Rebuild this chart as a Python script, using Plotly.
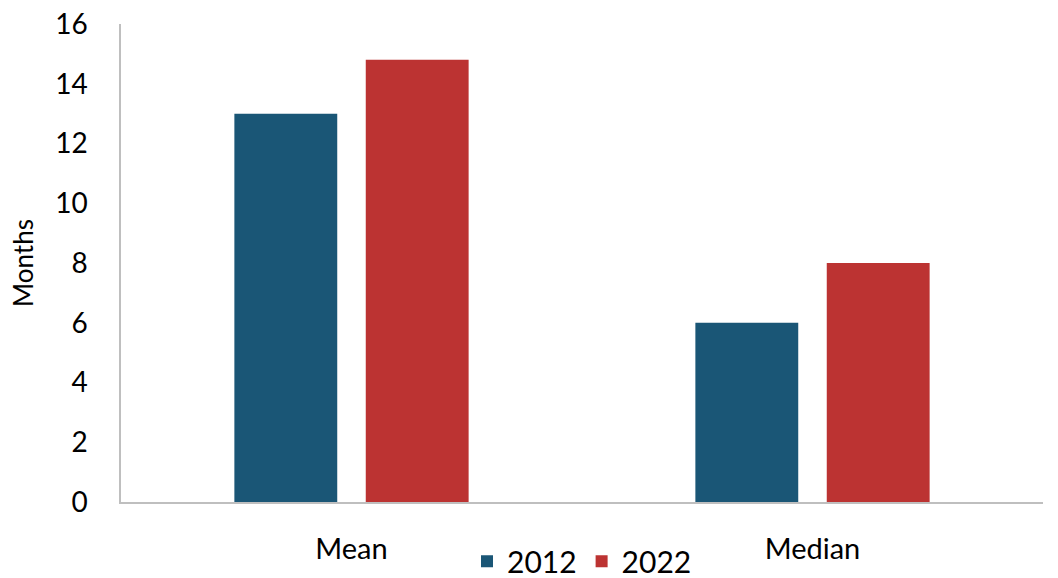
import plotly.graph_objects as go

categories = ["Mean", "Median"]
series_names = ["2012", "2022"]
values_2012 = [13, 6]
values_2022 = [14.8, 8]
colors = ["#1A5676", "#BC3332"]
y_ticks = [0, 2, 4, 6, 8, 10, 12, 14, 16]

font_family = "Lato, 'Open Sans', sans-serif"

fig = go.Figure()
for name, vals, col in zip(series_names, [values_2012, values_2022], colors):
    fig.add_trace(go.Bar(x=categories, y=vals, name=name, marker=dict(color=col, line=dict(width=0))))

fig.update_layout(
    width=1058, height=578,
    margin=dict(l=121, r=15, t=24, b=76, autoexpand=False),
    plot_bgcolor="white", paper_bgcolor="white",
    barmode="group", bargap=0.43, bargroupgap=0.217,
    font=dict(family=font_family, color="black"),
    legend=dict(orientation="h", x=0.5, xanchor="center", y=-0.124, yanchor="middle",
                font=dict(size=30), itemwidth=30, traceorder="normal"),
    showlegend=True,
)
fig.update_xaxes(showline=True, linecolor="#BFBFBF", linewidth=1.5, showgrid=False,
                 ticks="", tickfont=dict(size=29), ticklabelstandoff=20)
fig.update_yaxes(range=[0, 16], tickvals=y_ticks, showline=True, linecolor="#BFBFBF", linewidth=1.5,
                 showgrid=False, zeroline=False, ticks="", tickfont=dict(size=28),
                 ticklabelstandoff=26,
                 title=dict(text="Months", font=dict(size=26), standoff=14))

fig.write_html("out.html")
